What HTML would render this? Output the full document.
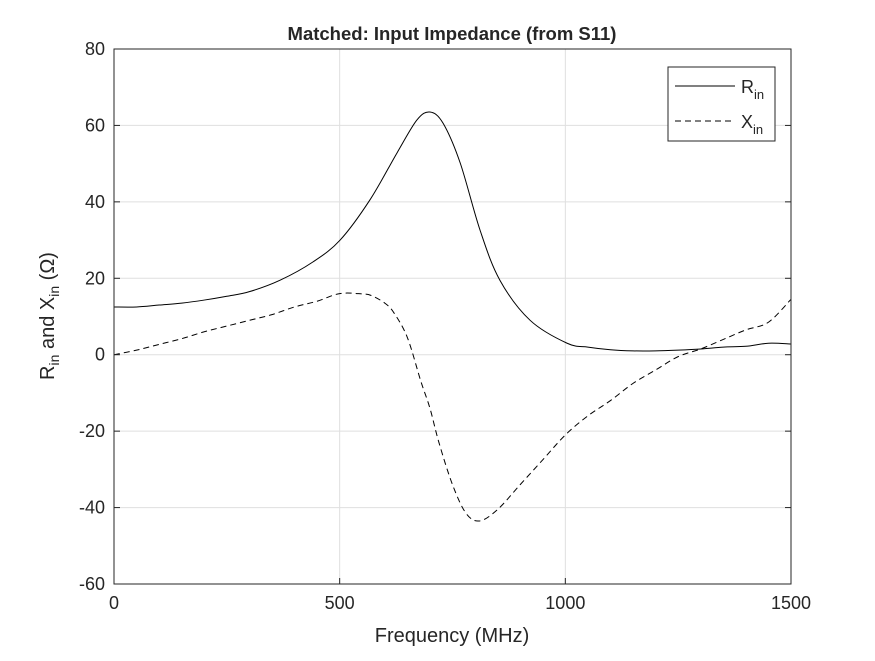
<!DOCTYPE html>
<html><head><meta charset="utf-8"><style>
body{margin:0;background:#fff}
svg text{font-family:"Liberation Sans",Arial,sans-serif;fill:#262626}
</style></head><body>
<svg id="chart" width="875" height="656" viewBox="0 0 875 656">
<rect x="0" y="0" width="875" height="656" fill="#fff"/>
<rect x="114" y="49" width="677" height="535" fill="#fff" stroke="none"/>
<g id="grid"></g>
<g id="series"></g>
<rect x="114" y="49" width="677" height="535" fill="none" stroke="#262626" stroke-width="1"/>
<g id="ticks"></g>
<text x="452" y="40" text-anchor="middle" font-size="18.5" font-weight="bold" fill="#000">Matched: Input Impedance (from S11)</text>
<text x="452" y="642" text-anchor="middle" font-size="20">Frequency (MHz)</text>
<text transform="translate(54,316) rotate(-90)" text-anchor="middle" font-size="20">R<tspan font-size="14" dy="5">in</tspan><tspan dy="-5"> and X</tspan><tspan font-size="14" dy="5">in</tspan><tspan dy="-5"> (Ω)</tspan></text>
<g>
<rect x="668" y="67" width="107" height="74" fill="#fff" stroke="#262626" stroke-width="1"/>
<line x1="675" y1="86" x2="735" y2="86" stroke="#000" stroke-width="1"/>
<text x="741" y="93" font-size="18">R<tspan font-size="13" dy="6">in</tspan></text>
<line x1="675" y1="121" x2="735" y2="121" stroke="#000" stroke-width="1" stroke-dasharray="6,4"/>
<text x="741" y="128" font-size="18">X<tspan font-size="13" dy="6">in</tspan></text>
</g>
</svg>
<script>
const xTicks=[0,500,1000,1500];
const yTicks=[-60,-40,-20,0,20,40,60,80];
const rFreq=[0,50,100,150,200,250,300,368,441,501,567,627,671,700,729,767,811,855,922,1004,1050,1100,1150,1200,1250,1300,1350,1400,1450,1500];
const rVals=[12.5,12.5,13,13.5,14.3,15.3,16.5,19.5,24.3,30,40.5,52.8,61.4,63.5,60.6,50.2,32.6,19.5,9,3,2,1.3,1,1,1.2,1.5,2,2.2,3,2.8];
const xFreq=[0,50,100,150,200,250,300,350,400,450,500,550,570,600,620,650,680,700,720,750,780,810,850,900,950,1000,1050,1100,1150,1200,1250,1300,1350,1400,1450,1500];
const xVals=[0,1.2,2.7,4.2,6,7.5,9,10.5,12.5,14,16,15.9,15.5,13.5,11,4.5,-7,-14,-23,-34,-41.5,-43.5,-40.5,-34,-27.5,-21,-16,-12,-7.5,-4,-0.5,1.5,4,6.5,8.5,14.5];
const NS='http://www.w3.org/2000/svg';
const X0=114,X1=791,Y0=584,Y1=49;
function sx(v){return X0+(v-0)/(1500-0)*(X1-X0);}
function sy(v){return Y0-(v+60)/(140)*(Y0-Y1);}
const grid=document.getElementById('grid'),ticks=document.getElementById('ticks'),series=document.getElementById('series');
function mk(tag,attrs,parent){const e=document.createElementNS(NS,tag);for(const k in attrs)e.setAttribute(k,attrs[k]);parent.appendChild(e);return e;}
xTicks.forEach(t=>{
  const x=sx(t);
  const g=mk('line',{x1:x,x2:x,y1:Y1,y2:Y0,stroke:'#dfdfdf','stroke-width':1},grid);
  
  
  const tk=mk('line',{x1:x,x2:x,y1:Y0,y2:Y0-6,stroke:'#262626'},ticks);
  
  
  const tl=mk('text',{x:x,y:Y0+25,'text-anchor':'middle','font-size':18},ticks);
  tl.textContent=t;
  
  
});
yTicks.forEach(t=>{
  const y=sy(t);
  const g=mk('line',{x1:X0,x2:X1,y1:y,y2:y,stroke:'#dfdfdf','stroke-width':1},grid);
  
  
  const tk=mk('line',{x1:X0,x2:X0+6,y1:y,y2:y,stroke:'#262626'},ticks);
  
  
  const tk2=mk('line',{x1:X1,x2:X1-6,y1:y,y2:y,stroke:'#262626'},ticks);
  
  
  const tl=mk('text',{x:X0-9,y:y+6,'text-anchor':'end','font-size':18},ticks);
  tl.textContent=t;
  
  
});
function pathD(fs,vs){
  const p=fs.map((f,i)=>[sx(f),sy(vs[i])]);
  let d='M'+p[0][0]+','+p[0][1];
  for(let i=0;i<p.length-1;i++){
    const p0=p[i-1]||p[i],p1=p[i],p2=p[i+1],p3=p[i+2]||p2;
    const c1=[p1[0]+(p2[0]-p0[0])/6,p1[1]+(p2[1]-p0[1])/6];
    const c2=[p2[0]-(p3[0]-p1[0])/6,p2[1]-(p3[1]-p1[1])/6];
    d+=' C'+c1+' '+c2+' '+p2;
  }
  return d;
}
const r=mk('path',{d:pathD(rFreq,rVals),fill:'none',stroke:'#000','stroke-width':1},series);


const xl=mk('path',{d:pathD(xFreq,xVals),fill:'none',stroke:'#000','stroke-width':1,'stroke-dasharray':'6,4'},series);


</script>
</body></html>
